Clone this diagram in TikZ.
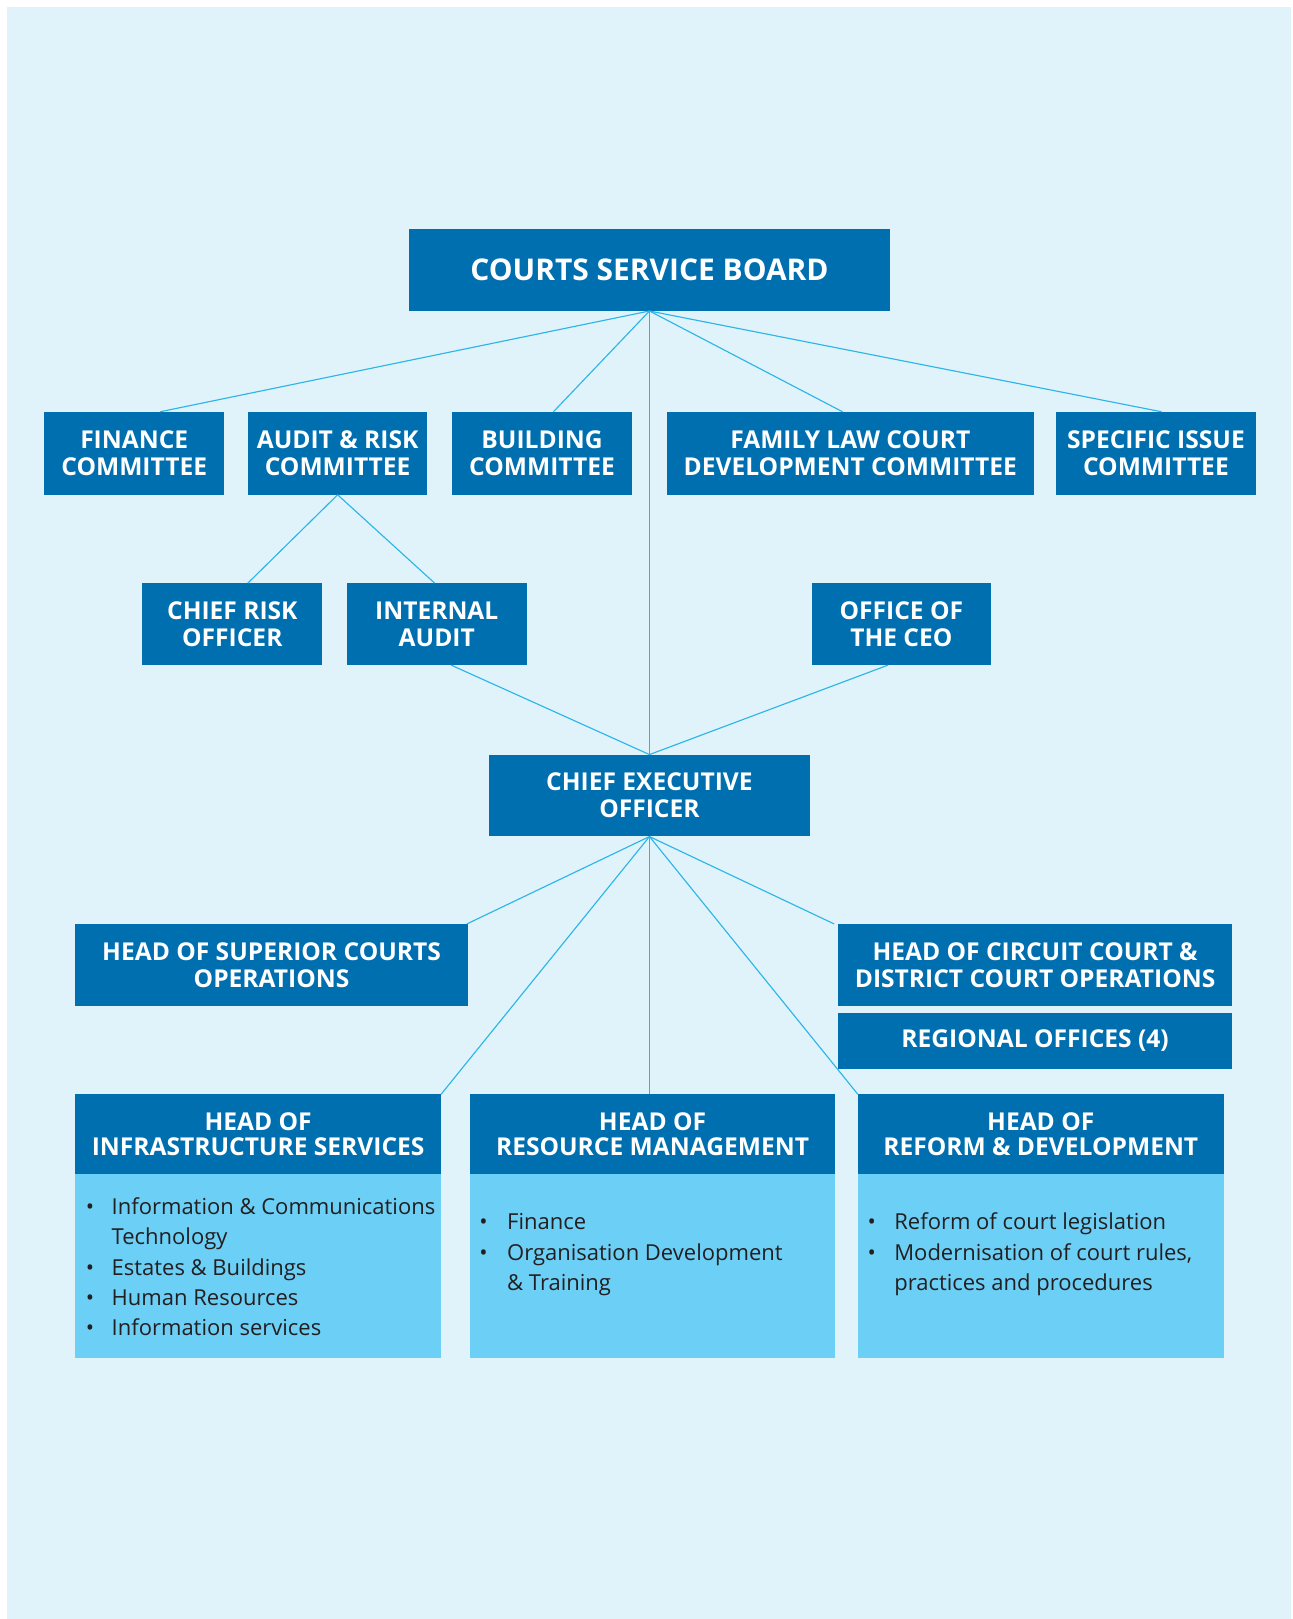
\documentclass[tikz,border=0pt]{standalone}
\usepackage{fontspec}
\setmainfont{Open Sans}
\usetikzlibrary{calc}
\definecolor{dblue}{HTML}{006FB0}
\definecolor{lblue}{HTML}{6CCFF6}
\definecolor{bgblue}{HTML}{E0F3FA}
\definecolor{linec}{HTML}{2BB5E8}
\definecolor{txtgray}{HTML}{231F20}
\tikzset{
  box/.style={fill=dblue, text=white, align=center, inner sep=0pt,
    font=\bfseries\fontsize{23.8}{26}\selectfont},
  headbox/.style={box, font=\bfseries\fontsize{23.8}{25}\selectfont},
  bodybox/.style={fill=lblue, inner sep=0pt},
  conn/.style={draw=linec, line width=1.1pt},
  blist/.style={anchor=north west, inner sep=0pt, text=txtgray, align=left,
    font=\fontsize{21.3}{29.5}\selectfont}
}
\begin{document}
\begin{tikzpicture}[x=1pt,y=-1pt]
\useasboundingbox (0,0) rectangle (1252,1568);
\fill[white] (0,0) rectangle (1252,1568);
\fill[bgblue] (7,7) rectangle (1250,1568);

% top
\node[box, minimum width=466pt, minimum height=79pt, font=\bfseries\fontsize{29}{30}\selectfont] (board) at (629,261.5) {COURTS SERVICE BOARD};

% committees
\node[box, minimum width=174pt, minimum height=80pt] (fin) at (130,439) {FINANCE\\COMMITTEE};
\node[box, minimum width=174pt, minimum height=80pt] (audit) at (327,439) {AUDIT \& RISK\\COMMITTEE};
\node[box, minimum width=174pt, minimum height=80pt] (build) at (525,439) {BUILDING\\COMMITTEE};
\node[box, minimum width=355pt, minimum height=80pt] (family) at (823.5,439) {FAMILY LAW COURT\\DEVELOPMENT COMMITTEE};
\node[box, minimum width=193pt, minimum height=80pt] (spec) at (1119.5,439) {SPECIFIC ISSUE\\COMMITTEE};

% second row
\node[box, minimum width=174pt, minimum height=79pt] (cro) at (225,604.5) {CHIEF RISK\\OFFICER};
\node[box, minimum width=174pt, minimum height=79pt] (ia) at (423,604.5) {INTERNAL\\AUDIT};
\node[box, minimum width=174pt, minimum height=79pt] (oceo) at (873,604.5) {OFFICE OF\\THE CEO};

% CEO
\node[box, minimum width=310pt, minimum height=79pt] (ceo) at (629,770.5) {CHIEF EXECUTIVE\\OFFICER};

% heads
\node[box, minimum width=380pt, minimum height=79pt] (sup) at (263,934.5) {HEAD OF SUPERIOR COURTS\\OPERATIONS};
\node[box, minimum width=381pt, minimum height=79pt] (circ) at (1002.5,934.5) {HEAD OF CIRCUIT COURT \&\\DISTRICT COURT OPERATIONS};
\node[box, minimum width=381pt, minimum height=54pt] (reg) at (1002.5,1008) {REGIONAL OFFICES (4)};

% bottom boxes
\node[bodybox, minimum width=354pt, minimum height=178pt] (infrab) at (250,1226) {};
\node[bodybox, minimum width=354pt, minimum height=178pt] (resb) at (632,1226) {};
\node[bodybox, minimum width=354pt, minimum height=178pt] (refb) at (1008,1226) {};
\node[headbox, minimum width=354pt, minimum height=77pt] (infrah) at (250,1098.5) {HEAD OF\\INFRASTRUCTURE SERVICES};
\node[headbox, minimum width=354pt, minimum height=77pt] (resh) at (632,1098.5) {HEAD OF\\RESOURCE MANAGEMENT};
\node[headbox, minimum width=354pt, minimum height=77pt] (refh) at (1008,1098.5) {HEAD OF\\REFORM \& DEVELOPMENT};

\node[blist] (infral) at (83,1155) {\begin{tabular}{@{}p{25pt}@{}l@{}}
\textbullet & Information \& Communications\\
 & Technology\\
\textbullet & Estates \& Buildings\\
\textbullet & Human Resources\\
\textbullet & Information services
\end{tabular}};
\node[blist] (resl) at (464,1170) {\begin{tabular}{@{}p{27pt}@{}l@{}}
\textbullet & Finance\\
\textbullet & Organisation Development\\
 & \& Training
\end{tabular}};
\node[blist] (refl) at (840,1170) {\begin{tabular}{@{}p{26pt}@{}l@{}}
\textbullet & Reform of court legislation\\
\textbullet & Modernisation of court rules,\\
 & practices and procedures
\end{tabular}};

% connectors
\draw[conn] (board.south) -- ([xshift=25pt]fin.north);
\draw[conn] (board.south) -- ([xshift=11pt]build.north);
\draw[conn] (board.south) -- ([xshift=-7.5pt]family.north);
\draw[conn] (board.south) -- ([xshift=5.5pt]spec.north);
\draw[conn] (board.south) -- (ceo.north);

\draw[conn] (audit.south) -- ([xshift=15pt]cro.north);
\draw[conn] (audit.south) -- ([xshift=-2pt]ia.north);

\draw[conn] ([xshift=14pt]ia.south) -- (ceo.north);
\draw[conn] ([xshift=-13pt]oceo.south) -- (ceo.north);

\draw[conn] (ceo.south) -- ([xshift=-1pt]sup.north east);
\draw[conn] (ceo.south) -- ([xshift=-4pt]circ.north west);
\draw[conn] (ceo.south) -- (infrah.north east);
\draw[conn] (ceo.south) -- (ceo.south |- resh.north);
\draw[conn] (ceo.south) -- (refh.north west);
\end{tikzpicture}
\end{document}
